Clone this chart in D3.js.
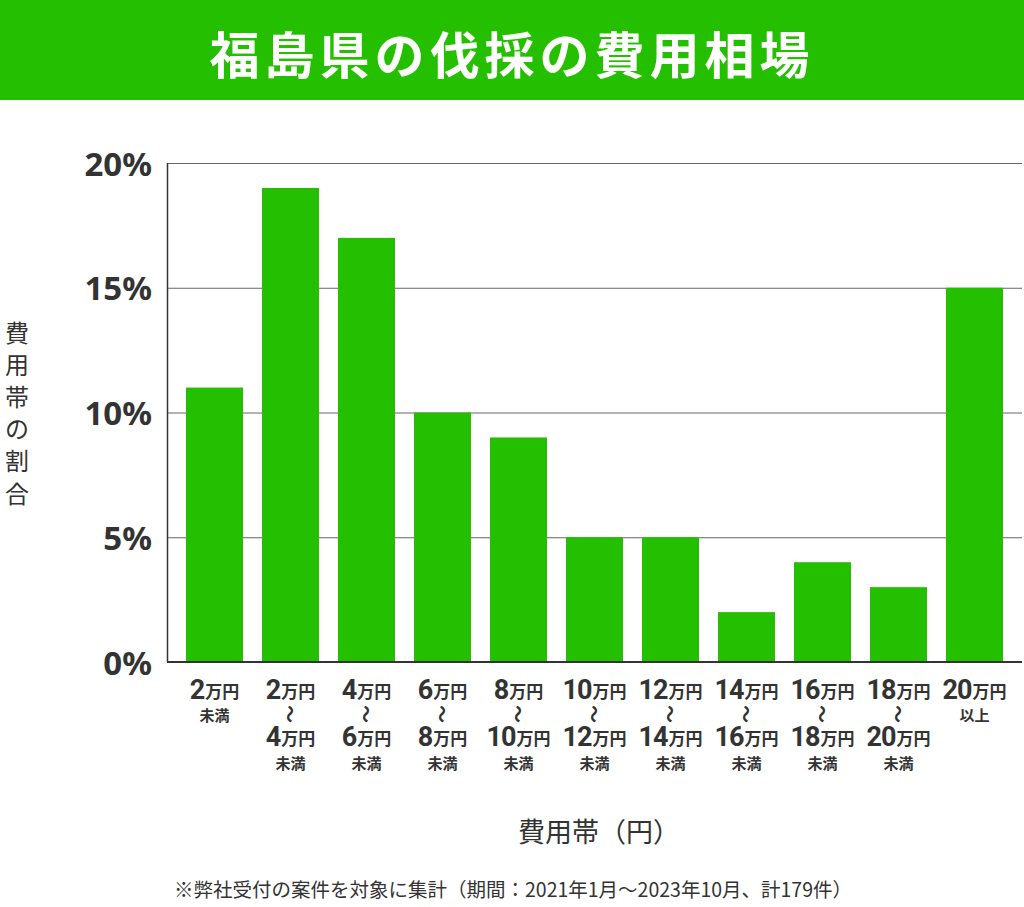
<!DOCTYPE html>
<html><head><meta charset="utf-8">
<script src="https://cdn.jsdelivr.net/npm/d3@7"></script>
<style>
html,body{margin:0;padding:0;background:#fff;}
svg{display:block;font-family:"Noto Sans CJK JP","Noto Sans",sans-serif;}
</style></head><body>
<svg id="c" width="1024" height="907"></svg>
<script>
const title = "福島県の伐採の費用相場";
const categories = ["2-","2-4","4-6","6-8","8-10","10-12","12-14","14-16","16-18","18-20","20+"];
const values = [11, 19, 17, 10, 9, 5, 5, 2, 4, 3, 15];
const labelFrom = ["2", "2", "4", "6", "8", "10", "12", "14", "16", "18", "20"];
const labelTo = [null, "4", "6", "8", "10", "12", "14", "16", "18", "20", null];
const labelSuffix = ["未満", "未満", "未満", "未満", "未満", "未満", "未満", "未満", "未満", "未満", "以上"];
const yTicks = [0, 5, 10, 15, 20];
const yTitle = "費用帯の割合";
const xTitle = "費用帯（円）";
const footnote = "※弊社受付の案件を対象に集計（期間：2021年1月～2023年10月、計179件）";

const svg = d3.select("#c");
const green = "#24c000";
const dark = "#333333";

svg.append("rect").attr("x",0).attr("y",0).attr("width",1024).attr("height",100).attr("fill",green);
svg.append("text").attr("x",512).attr("y",52).attr("text-anchor","middle").attr("dominant-baseline","central")
  .attr("fill","#fff").attr("font-size",50).attr("font-weight","bold").attr("letter-spacing",5).text(title);

const x = d3.scaleBand().domain(categories).range([167,1022]).paddingInner(0.25).paddingOuter(0.25);
const y = d3.scaleLinear().domain([0,20]).range([662,163]);

// gridlines
svg.append("g").selectAll("line").data(yTicks.filter(d=>d>0)).join("line")
  .attr("x1",167).attr("x2",1022).attr("y1",d=>y(d)+0.5).attr("y2",d=>y(d)+0.5)
  .attr("stroke","#666").attr("stroke-width",1);

// bars
svg.append("g").selectAll("rect").data(values).join("rect")
  .attr("x",(d,i)=>x(categories[i])).attr("width",x.bandwidth())
  .attr("y",d=>y(d)).attr("height",d=>y(0)-y(d)).attr("fill",green);

// axes lines
svg.append("line").attr("x1",167.5).attr("x2",167.5).attr("y1",163).attr("y2",662).attr("stroke",dark).attr("stroke-width",1.5);
svg.append("line").attr("x1",167).attr("x2",1022).attr("y1",662).attr("y2",662).attr("stroke",dark).attr("stroke-width",2);

// y tick labels
svg.append("g").selectAll("text").data(yTicks).join("text")
  .attr("x",152).attr("y",d=>y(d)).attr("text-anchor","end").attr("dominant-baseline","central")
  .attr("fill",dark).attr("font-size",33).attr("font-weight","bold").attr("font-family","'Noto Sans',sans-serif")
  .text(d=>d+"%");

// y title vertical
const yt = svg.append("text").attr("fill",dark).attr("font-size",24).attr("text-anchor","middle");
Array.from(yTitle).forEach((ch,i)=>{
  yt.append("tspan").attr("x",17).attr("y",331+i*32.2).attr("dominant-baseline","central").text(ch);
});

// x tick labels
function amount(g, num, yy){
  const t = g.append("text").attr("y",yy).attr("text-anchor","middle").attr("fill",dark).attr("font-weight","bold").attr("dominant-baseline","central");
  t.append("tspan").attr("font-size",27).attr("font-family","Roboto,'Noto Sans',sans-serif").attr("letter-spacing",-1).text(num);
  t.append("tspan").attr("font-size",17).attr("dx",1).text("万円");
}
categories.forEach((c,i)=>{
  const cx = x(c) + x.bandwidth()/2;
  const g = svg.append("g").attr("transform",`translate(${cx},0)`);
  amount(g, labelFrom[i], 690);
  if(labelTo[i]){
    g.append("text").attr("x",0).attr("y",0).attr("text-anchor","middle").attr("dominant-baseline","central")
      .attr("transform","translate(0,714) rotate(90)").attr("fill",dark).attr("font-size",18).attr("font-weight","bold").text("～");
    amount(g, labelTo[i], 737);
    g.append("text").attr("y",762).attr("text-anchor","middle").attr("dominant-baseline","central")
      .attr("fill",dark).attr("font-size",15).attr("font-weight","bold").text(labelSuffix[i]);
  } else {
    g.append("text").attr("y",714).attr("text-anchor","middle").attr("dominant-baseline","central")
      .attr("fill",dark).attr("font-size",15).attr("font-weight","bold").text(labelSuffix[i]);
  }
});

svg.append("text").attr("x",599).attr("y",830).attr("text-anchor","middle").attr("dominant-baseline","central")
  .attr("fill",dark).attr("font-size",27).text(xTitle);

svg.append("text").attr("x",513).attr("y",888).attr("text-anchor","middle").attr("dominant-baseline","central")
  .attr("fill",dark).attr("font-size",19.5).text(footnote);
</script>
</body></html>
